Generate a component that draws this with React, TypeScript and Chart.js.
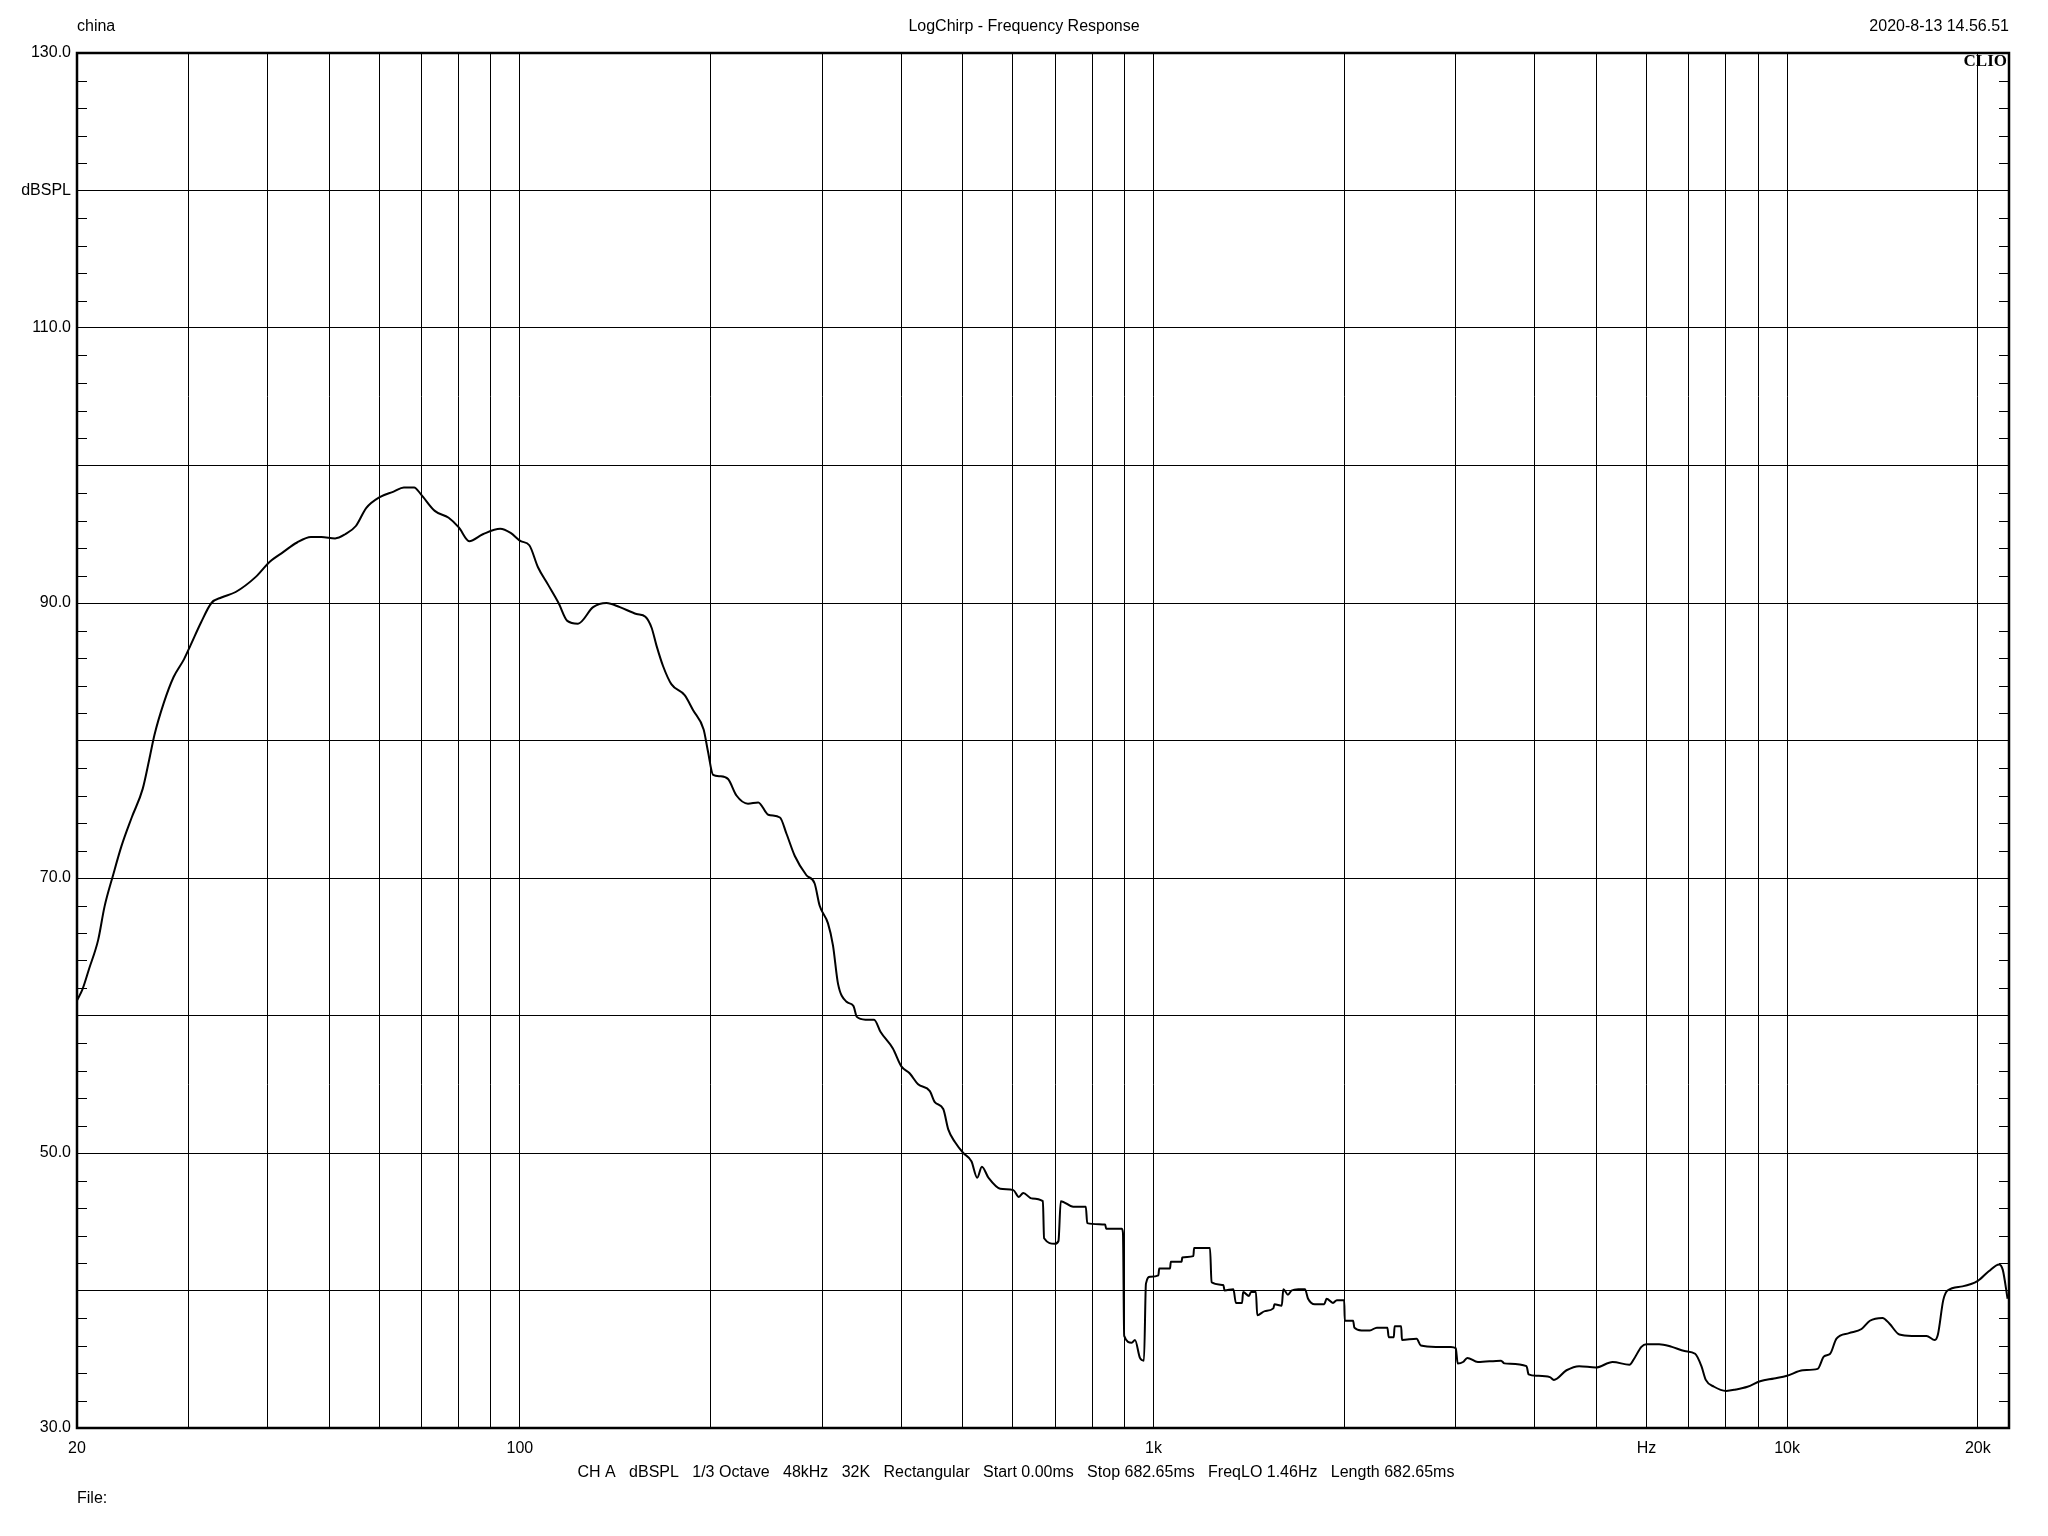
import React, { useEffect, useRef } from "react";
import { Chart, registerables } from "chart.js";

Chart.register(...registerables);

const FREQ_HZ: number[] = [
  20, 20.4, 20.9, 21.6, 22.1, 22.8, 23.5, 24.4, 25.4, 26.0, 26.5, 27.4, 28.4, 29.5, 30.2, 31.4, 32.6, 33.8, 35.6, 38.3,
  40.3, 42.3, 44.5, 46.8, 48.6, 51.1, 53.0, 55.1, 57.2, 60.1, 63.2, 65.6, 68.1, 69.8, 73.4, 77.2, 80.1, 83.2, 87.4, 93.1,
  96.7, 100.3, 103.5, 106.8, 110.9, 115.1, 118.8, 123.5, 130.5, 137.0, 143.8, 152.8, 157.8, 161.4, 164.3, 168.3, 173.4, 182.0, 187.7, 195.0,
  198.1, 201.8, 207.0, 213.1, 219.7, 229.1, 237.8, 246.6, 257.3, 263.6, 271.6, 283.3, 291.9, 297.2, 306.4, 312.0, 317.8, 327.8, 336.0, 340.3,
  351.1, 362.3, 371.0, 387.9, 400, 412.2, 425.1, 443.7, 451.7, 465.8, 474.5, 486, 501, 516, 527, 536, 549, 573, 601, 613,
  623, 642, 669, 672, 699, 708, 714, 747, 782, 786, 839, 842, 891, 895, 899, 924, 935, 952, 966, 973,
  988, 1018, 1021, 1062, 1065, 1108, 1110, 1156, 1159, 1228, 1235, 1289, 1295, 1337, 1349, 1380, 1385, 1415, 1425, 1451,
  1458, 1499, 1546, 1552, 1594, 1603, 1630, 1652, 1693, 1734, 1754, 1797, 1860, 1876, 1920, 1947, 2000, 2004, 2066, 2075,
  2130, 2195, 2252, 2340, 2351, 2395, 2402, 2460, 2467, 2602, 2642, 2790, 2947, 3000, 3021, 3080, 3128, 3251, 3536, 3580,
  3879, 3909, 4030, 4223, 4285, 4486, 4697, 4990, 5305, 5640, 5729, 5889, 5998, 6282, 6580, 6890, 7160, 7325, 7442, 7670,
  8016, 8300, 8658, 9065, 9538, 10000, 10593, 11174, 11432, 11695, 11966, 12524, 13108, 13512, 14143, 14500, 15037, 15736, 16598, 17107,
  17300, 17640, 17913, 18917, 20000, 20810, 21610, 21900, 22286,
];

const SPL_DB: number[] = [
  61.1, 61.9, 63.4, 65.5, 67.9, 70.2, 72.3, 74.4, 76.5, 78.6, 80.4, 82.7, 84.6, 85.9, 86.9, 88.6, 90.0, 90.4, 90.8, 91.9,
  93.0, 93.7, 94.4, 94.8, 94.8, 94.7, 95.0, 95.6, 96.9, 97.7, 98.1, 98.4, 98.4, 97.9, 96.7, 96.2, 95.5, 94.5, 95.0, 95.4,
  95.1, 94.5, 94.2, 92.6, 91.3, 90.0, 88.7, 88.5, 89.7, 90.0, 89.7, 89.2, 89.0, 88.2, 86.9, 85.4, 84.1, 83.3, 82.2, 80.8,
  79.2, 77.5, 77.4, 77.2, 76.0, 75.4, 75.5, 74.6, 74.4, 73.2, 71.6, 70.2, 69.6, 68.0, 66.7, 65.1, 62.3, 61.0, 60.7, 59.9,
  59.7, 59.7, 58.8, 57.6, 56.3, 55.8, 55.0, 54.5, 53.7, 53.2, 51.7, 50.8, 50.0, 49.4, 48.2, 49.0, 48.2, 47.4, 47.3, 46.8,
  47.1, 46.7, 46.5, 43.8, 43.4, 43.6, 46.5, 46.1, 46.1, 44.9, 44.8, 44.5, 44.5, 44.2, 36.7, 36.2, 36.4, 35.1, 34.9, 40.5,
  41.0, 41.1, 41.6, 41.6, 42.1, 42.1, 42.4, 42.5, 43.1, 43.1, 40.6, 40.4, 40.0, 40.1, 39.1, 39.1, 39.9, 39.6, 39.9, 39.9,
  38.2, 38.5, 38.7, 39.0, 38.9, 40.1, 39.7, 40.0, 40.1, 40.1, 39.4, 39.0, 39.0, 39.4, 39.1, 39.3, 39.3, 37.8, 37.8, 37.3,
  37.1, 37.1, 37.3, 37.3, 36.6, 36.6, 37.4, 37.4, 36.4, 36.5, 36.0, 35.9, 35.9, 35.8, 34.7, 34.8, 35.1, 34.8, 34.9, 34.7,
  34.5, 33.9, 33.8, 33.7, 33.5, 34.2, 34.5, 34.4, 34.8, 34.6, 35.0, 35.9, 36.1, 36.1, 35.9, 35.6, 35.4, 34.5, 33.5, 33.0,
  32.7, 32.8, 33.0, 33.4, 33.6, 33.8, 34.2, 34.3, 35.2, 35.4, 36.5, 36.9, 37.2, 37.8, 38.0, 37.6, 36.8, 36.7, 36.7, 36.4,
  36.8, 39.3, 40.0, 40.3, 40.7, 41.4, 41.9, 41.5, 39.4,
];

const X_GRID_HZ: number[] = [
  20, 30, 40, 50, 60, 70, 80, 90, 100, 200, 300, 400, 500, 600, 700, 800, 900,
  1000, 2000, 3000, 4000, 5000, 6000, 7000, 8000, 9000, 10000, 20000,
];
const X_LABELS: Record<number, string> = { 20: "20", 100: "100", 1000: "1k", 6000: "Hz", 10000: "10k", 20000: "20k" };
const Y_LABELS: Record<number, string> = { 130: "130.0", 120: "dBSPL", 110: "110.0", 90: "90.0", 70: "70.0", 50: "50.0", 30: "30.0" };

const X_MIN = 20;
const X_MAX = 22400;
const Y_MIN = 30;
const Y_MAX = 130;

const HEADER_LEFT = "china";
const HEADER_TITLE = "LogChirp - Frequency Response";
const HEADER_RIGHT = "2020-8-13 14.56.51";
const FOOTER_INFO = "CH A   dBSPL   1/3 Octave   48kHz   32K   Rectangular   Start 0.00ms   Stop 682.65ms   FreqLO 1.46Hz   Length 682.65ms";
const FOOTER_FILE = "File:";

const FONT = '"Liberation Sans Narrow", "Liberation Sans", Arial, sans-serif';

const decorPlugin = {
  id: "clioDecor",
  afterDraw(chart: any) {
    const { ctx, chartArea } = chart;
    const { left, right, top, bottom } = chartArea;
    const yScale = chart.scales.y;
    ctx.save();
    ctx.strokeStyle = "#000";
    ctx.lineWidth = 1;
    for (let v = Y_MIN; v <= Y_MAX; v += 2) {
      if (v % 10 === 0) continue;
      const y = Math.round(yScale.getPixelForValue(v)) + 0.5;
      ctx.beginPath();
      ctx.moveTo(left, y);
      ctx.lineTo(left + 10, y);
      ctx.moveTo(right - 10, y);
      ctx.lineTo(right, y);
      ctx.stroke();
    }
    ctx.lineWidth = 2.5;
    ctx.strokeRect(left, top, right - left, bottom - top);
    ctx.fillStyle = "#000";
    ctx.font = "16px " + FONT;
    ctx.textBaseline = "middle";
    ctx.textAlign = "left";
    ctx.fillText(HEADER_LEFT, left, 27);
    ctx.textAlign = "center";
    ctx.fillText(HEADER_TITLE, 1024, 27);
    ctx.textAlign = "right";
    ctx.fillText(HEADER_RIGHT, right, 27);
    ctx.textAlign = "center";
    ctx.fillText(FOOTER_INFO, 1016, 1473);
    ctx.textAlign = "left";
    ctx.fillText(FOOTER_FILE, left, 1499);
    ctx.font = 'bold 17px "Liberation Serif", "DejaVu Serif", serif';
    ctx.textAlign = "right";
    ctx.fillText("CLIO", right - 2, top + 9);
    ctx.restore();
  },
};

export default function App() {
  const canvasRef = useRef<HTMLCanvasElement | null>(null);

  useEffect(() => {
    const canvas = canvasRef.current;
    if (!canvas) return;
    const points = FREQ_HZ.map((f, i) => ({ x: f, y: SPL_DB[i] }));
    const chart = new Chart(canvas, {
      type: "line",
      data: {
        datasets: [
          {
            label: "CH A",
            data: points,
            borderColor: "#000",
            borderWidth: 2,
            pointRadius: 0,
            fill: false,
            cubicInterpolationMode: "monotone",
          },
        ],
      },
      options: {
        animation: false,
        responsive: false,
        devicePixelRatio: 1,
        layout: { padding: { top: 53, right: 39, bottom: 0, left: 0 } },
        plugins: { legend: { display: false }, tooltip: { enabled: false }, title: { display: false } },
        scales: {
          x: {
            type: "logarithmic",
            min: X_MIN,
            max: X_MAX,
            afterBuildTicks: (scale: any) => {
              scale.ticks = X_GRID_HZ.map((v) => ({ value: v }));
            },
            afterFit: (scale: any) => {
              scale.height = 108;
            },
            ticks: {
              autoSkip: false,
              maxRotation: 0,
              minRotation: 0,
              padding: 11,
              color: "#000",
              font: { family: FONT, size: 16 },
              callback: (v: any) => X_LABELS[Number(v)] ?? "",
            },
            grid: { color: "#000", lineWidth: 1, drawTicks: false },
            border: { display: false },
          },
          y: {
            type: "linear",
            min: Y_MIN,
            max: Y_MAX,
            afterFit: (scale: any) => {
              scale.width = 77;
            },
            ticks: {
              stepSize: 10,
              padding: 6,
              color: "#000",
              font: { family: FONT, size: 16 },
              callback: (v: any) => Y_LABELS[Number(v)] ?? "",
            },
            grid: { color: "#000", lineWidth: 1, drawTicks: false },
            border: { display: false },
          },
        },
      },
      plugins: [decorPlugin],
    });
    return () => chart.destroy();
  }, []);

  return (
    <div style={{ position: "absolute", left: 0, top: 0, width: 2048, height: 1536, background: "#fff" }}>
      <canvas ref={canvasRef} width={2048} height={1536} style={{ width: 2048, height: 1536, display: "block" }} />
    </div>
  );
}
